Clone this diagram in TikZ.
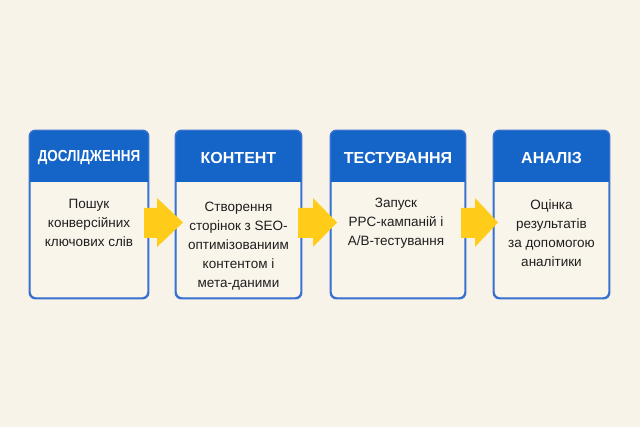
\documentclass[tikz,border=0pt]{standalone}
\usepackage{fontspec}
\setmainfont{Liberation Sans}
\usetikzlibrary{calc}
\definecolor{bg}{HTML}{F8F3E8}
\definecolor{cardbg}{HTML}{FAF5EB}
\definecolor{hdr}{HTML}{1565C8}
\definecolor{bord}{HTML}{3A72D2}
\definecolor{arr}{HTML}{FFCC1A}
\definecolor{txt}{HTML}{1E1E1E}
\tikzset{
  card/.style={draw=bord, line width=1.4pt, fill=cardbg, rounded corners=6pt, minimum height=167pt, inner sep=0pt},
  title/.style={text=white, font=\fontsize{16}{19}\selectfont\bfseries, inner sep=0pt},
  bodytext/.style={text=txt, font=\fontsize{13.5}{19}\selectfont, align=center, inner sep=0pt, anchor=north},
  blockarrow/.style={fill=arr, draw=none}
}
\newcommand{\cardheader}[1]{%
  \begin{scope}
    \clip[rounded corners=6pt] (#1.north west) rectangle (#1.south east);
    \fill[hdr] (#1.north west) rectangle ($(#1.north east)+(0,52)$);
  \end{scope}
  \draw[bord, line width=1.4pt, rounded corners=6pt] (#1.north west) rectangle (#1.south east);
}
\begin{document}
\begin{tikzpicture}[x=1pt,y=-1pt]
\fill[bg] (0,0) rectangle (640,427);
\useasboundingbox (0,0) rectangle (640,427);

% cards
\node[card, minimum width=118pt] (c1) at (89,214.5) {};
\node[card, minimum width=125pt] (c2) at (238.5,214.5) {};
\node[card, minimum width=134pt] (c3) at (398,214.5) {};
\node[card, minimum width=115pt] (c4) at (551.5,214.5) {};
\cardheader{c1}
\cardheader{c2}
\cardheader{c3}
\cardheader{c4}

% titles
\node[title] (t1) at (89,157.5) {\scalebox{0.84}[1]{ДОСЛІДЖЕННЯ}};
\node[title] (t2) at (238.5,157.5) {КОНТЕНТ};
\node[title] (t3) at (398,157.5) {ТЕСТУВАННЯ};
\node[title] (t4) at (551.5,157.5) {АНАЛІЗ};

% body texts
\node[bodytext] (b1) at (89,199.3) {Пошук\\конверсійних\\ключових слів};
\node[bodytext] (b2) at (238.5,201.5) {Створення\\сторінок з SEO-\\оптимізованиим\\контентом і\\мета-даними};
\node[bodytext] (b3) at (396,198.3) {Запуск\\PPC-кампаній і\\A/B-тестування};
\node[bodytext] (b4) at (551.5,199.3) {Оцінка\\результатів\\за допомогою\\аналітики};

% block arrows
\foreach \s/\m/\e in {144/157/183, 298/313/337, 461/475/498}{
  \fill[blockarrow] (\s,208) -- (\m,208) -- (\m,198) -- (\e,222.5) -- (\m,247) -- (\m,238) -- (\s,238) -- cycle;
}
\end{tikzpicture}
\end{document}
